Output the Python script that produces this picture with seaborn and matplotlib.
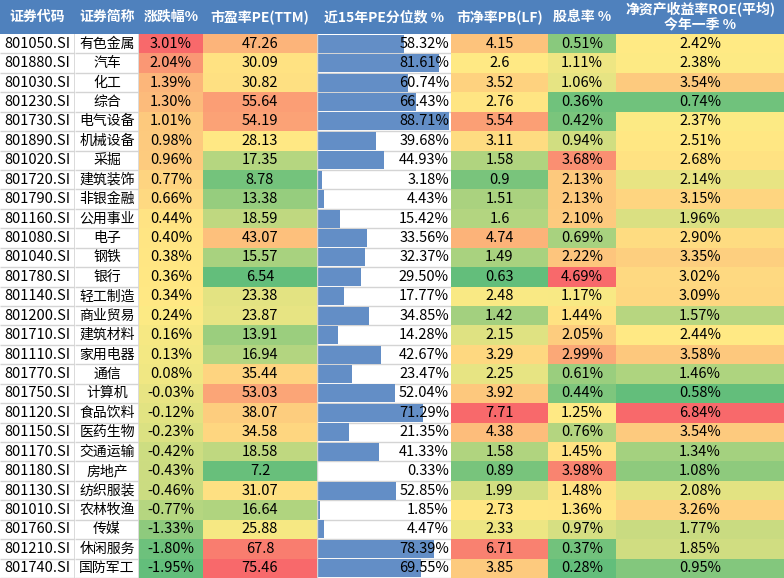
import matplotlib
matplotlib.use("Agg")
import matplotlib.pyplot as plt
import matplotlib.transforms as mtrans
from matplotlib.colors import LinearSegmentedColormap, TwoSlopeNorm
import seaborn as sns
import numpy as np
import pandas as pd

sns.set_theme(style="white")
plt.rcParams['font.family'] = ['Noto Sans CJK SC', 'DejaVu Sans']

# ---- data ----
codes = ["801050.SI", "801880.SI", "801030.SI", "801230.SI", "801730.SI", "801890.SI", "801020.SI",
         "801720.SI", "801790.SI", "801160.SI", "801080.SI", "801040.SI", "801780.SI", "801140.SI",
         "801200.SI", "801710.SI", "801110.SI", "801770.SI", "801750.SI", "801120.SI", "801150.SI",
         "801170.SI", "801180.SI", "801130.SI", "801010.SI", "801760.SI", "801210.SI", "801740.SI"]
names = ["有色金属", "汽车", "化工", "综合", "电气设备", "机械设备", "采掘",
         "建筑装饰", "非银金融", "公用事业", "电子", "钢铁", "银行", "轻工制造",
         "商业贸易", "建筑材料", "家用电器", "通信", "计算机", "食品饮料", "医药生物",
         "交通运输", "房地产", "纺织服装", "农林牧渔", "传媒", "休闲服务", "国防军工"]
chg = [3.01, 2.04, 1.39, 1.30, 1.01, 0.98, 0.96, 0.77, 0.66, 0.44, 0.40, 0.38, 0.36, 0.34,
       0.24, 0.16, 0.13, 0.08, -0.03, -0.12, -0.23, -0.42, -0.43, -0.46, -0.77, -1.33, -1.80, -1.95]
pe = [47.26, 30.09, 30.82, 55.64, 54.19, 28.13, 17.35, 8.78, 13.38, 18.59, 43.07, 15.57, 6.54, 23.38,
      23.87, 13.91, 16.94, 35.44, 53.03, 38.07, 34.58, 18.58, 7.2, 31.07, 16.64, 25.88, 67.8, 75.46]
pe_pct = [58.32, 81.61, 60.74, 66.43, 88.71, 39.68, 44.93, 3.18, 4.43, 15.42, 33.56, 32.37, 29.50, 17.77,
          34.85, 14.28, 42.67, 23.47, 52.04, 71.29, 21.35, 41.33, 0.33, 52.85, 1.85, 4.47, 78.39, 69.55]
pb = [4.15, 2.6, 3.52, 2.76, 5.54, 3.11, 1.58, 0.9, 1.51, 1.6, 4.74, 1.49, 0.63, 2.48,
      1.42, 2.15, 3.29, 2.25, 3.92, 7.71, 4.38, 1.58, 0.89, 1.99, 2.73, 2.33, 6.71, 3.85]
div = [0.51, 1.11, 1.06, 0.36, 0.42, 0.94, 3.68, 2.13, 2.13, 2.10, 0.69, 2.22, 4.69, 1.17,
       1.44, 2.05, 2.99, 0.61, 0.44, 1.25, 0.76, 1.45, 3.98, 1.48, 1.36, 0.97, 0.37, 0.28]
roe = [2.42, 2.38, 3.54, 0.74, 2.37, 2.51, 2.68, 2.14, 3.15, 1.96, 2.90, 3.35, 3.02, 3.09,
       1.57, 2.44, 3.58, 1.46, 0.58, 6.84, 3.54, 1.34, 1.08, 2.08, 3.26, 1.77, 1.85, 0.95]
headers = ["证券代码", "证券简称", "涨跌幅%", "市盈率PE(TTM)", "近15年PE分位数 %",
           "市净率PB(LF)", "股息率 %", "净资产收益率ROE(平均)\n今年一季 %"]

# ---- layout (pixels) ----
W, H = 784, 578
HEAD = 34
edges = [0, 75, 139, 203, 317, 451, 548, 616, 784]
n = len(codes)
GRID = "#D4D4D4"
TXT = 10
NUM = 10.5

# excel style 3-colour scale: min green / median yellow / max red
cmap = LinearSegmentedColormap.from_list("excel3", ["#63BE7B", "#FFEB84", "#F8696B"])

fig = plt.figure(figsize=(W / 100, H / 100), dpi=100)


def col_ax(i):
    x0, x1 = edges[i], edges[i + 1]
    ax = fig.add_axes([x0 / W, 0, (x1 - x0) / W, (H - HEAD) / H])
    return ax


def plain_frame(ax):
    ax.set_xlim(0, 1)
    ax.set_ylim(n, 0)
    ax.set_xticks([])
    ax.set_yticks([])
    for s in ax.spines.values():
        s.set_visible(False)
    ax.hlines(np.arange(1, n + 1), 0, 1, color=GRID, lw=1)
    ax.axvline(1, color=GRID, lw=1.2)


# code column (left aligned)
ax = col_ax(0)
plain_frame(ax)
for i, c in enumerate(codes):
    ax.text(0.06, i + 0.5, c, ha="left", va="center", fontsize=NUM, color="black")

# name column
ax = col_ax(1)
plain_frame(ax)
for i, c in enumerate(names):
    ax.text(0.5, i + 0.5, c, ha="center", va="center", fontsize=TXT, color="black")


# colour scale columns
def scale_col(i, vals, labels):
    ax = col_ax(i)
    v = np.array(vals, dtype=float)
    norm = TwoSlopeNorm(vmin=v.min(), vcenter=np.median(v), vmax=v.max())
    df = pd.DataFrame({"v": v})
    sns.heatmap(df, ax=ax, cmap=cmap, norm=norm, cbar=False,
                annot=np.array(labels).reshape(-1, 1), fmt="",
                annot_kws={"color": "black", "fontsize": NUM},
                xticklabels=False, yticklabels=False)
    ax.set_xlabel("")
    ax.set_ylabel("")
    return ax


scale_col(2, chg, [f"{x:.2f}%" for x in chg])
scale_col(3, pe, [f"{x:g}" for x in pe])
scale_col(5, pb, [f"{x:g}" for x in pb])
scale_col(6, div, [f"{x:.2f}%" for x in div])
scale_col(7, roe, [f"{x:.2f}%" for x in roe])

# data bar column
ax = col_ax(4)
sns.barplot(x=pe_pct, y=names, orient="h", color="#638EC6", saturation=1,
            width=0.92, errorbar=None, linewidth=0, edgecolor="none", ax=ax)
ax.set_xlim(0, max(pe_pct) * 1.012)
ax.set_ylim(n - 0.5, -0.5)
ax.set_xticks([])
ax.set_yticks([])
ax.set_xlabel("")
ax.set_ylabel("")
for s in ax.spines.values():
    s.set_visible(False)
tr = mtrans.blended_transform_factory(ax.transAxes, ax.transData)
ax.hlines(np.arange(n) + 0.5, 0, 1, transform=tr, color=GRID, lw=1, zorder=0)
ax.axvline(0, color=GRID, lw=1)
for i, v in enumerate(pe_pct):
    ax.text(0.985, i, f"{v:.2f}%", ha="right", va="center", fontsize=NUM, color="black", transform=tr)

# header row
hax = fig.add_axes([0, (H - HEAD) / H, 1, HEAD / H])
hax.set_facecolor("#4F81BD")
hax.set_xlim(0, W)
hax.set_ylim(0, HEAD)
hax.set_xticks([])
hax.set_yticks([])
for s in hax.spines.values():
    s.set_visible(False)
for i, h in enumerate(headers):
    xc = (edges[i] + edges[i + 1]) / 2
    hax.text(xc, HEAD / 2, h, ha="center", va="center", fontsize=TXT, color="white",
             fontweight="bold", linespacing=1.1)

fig.savefig("out.png", dpi=100)
